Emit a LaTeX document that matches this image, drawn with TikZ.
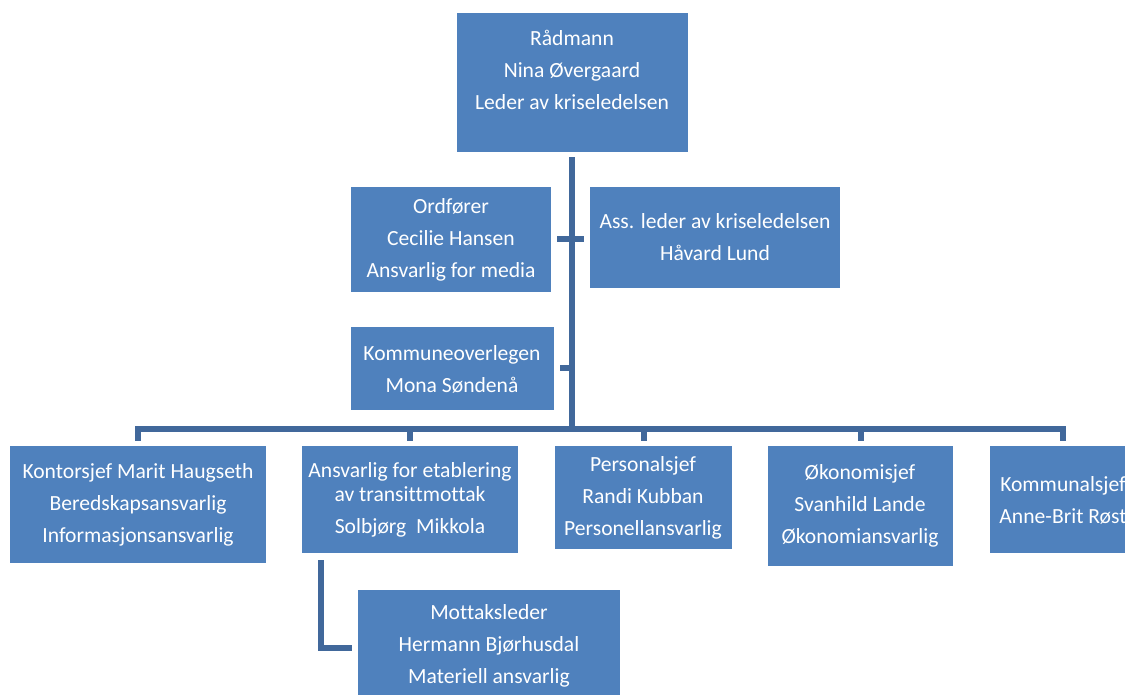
\documentclass[tikz,border=0pt]{standalone}
\usepackage{fontspec}
\setmainfont{Carlito}[Ligatures=NoCommon]
\usetikzlibrary{fit}
\definecolor{boxblue}{RGB}{79,129,189}
\definecolor{lineblue}{RGB}{65,104,155}
\tikzset{
  box/.style={fill=boxblue, draw=none, inner sep=0pt},
  txt/.style={text=white, align=center, inner sep=0pt, font=\fontsize{16.2}{24}\selectfont},
  conn/.style={draw=lineblue, line width=4.5pt, line join=miter}
}
\begin{document}
\begin{tikzpicture}[x=0.75pt,y=-0.75pt]
\useasboundingbox (0,0) rectangle (1125,695);
\clip (0,0) rectangle (1125,695);
\fill[white] (0,0) rectangle (1125,695);
% boxes
\node[box, fit={(457,13) (688,152)}] (r) {};
\node[box, fit={(351,187) (551,292)}] (o) {};
\node[box, fit={(590,187) (840,288)}] (a) {};
\node[box, fit={(351,327) (554,410)}] (k) {};
\node[box, fit={(10,446) (266,563)}] (b1) {};
\node[box, fit={(302,446) (518,553)}] (b2) {};
\node[box, fit={(555,446) (732,549)}] (b3) {};
\node[box, fit={(768,446) (953,566)}] (b4) {};
\node[box, fit={(990,446) (1136,553)}] (b5) {};
\node[box, fit={(358,590) (620,705)}] (m) {};
% texts
\node[txt] (tr) at (572,70) {Rådmann\\Nina Øvergaard\\Leder av kriseledelsen};
\node[txt] (to) at (451,239.5) {Ordfører\\Cecilie Hansen\\Ansvarlig for media};
\node[txt] (ta) at (715,237.5) {Ass. leder av kriseledelsen\\Håvard Lund};
\node[txt] (tk) at (452,369.5) {Kommuneoverlegen\\Mona Søndenå};
\node[txt] (tb1) at (138,504.5) {Kontorsjef Marit Haugseth\\Beredskapsansvarlig\\Informasjonsansvarlig};
\node[txt] (tb2) at (410,500) {Ansvarlig for etablering\\[-6pt]av transittmottak\\Solbjørg~~Mikkola};
\node[txt] (tb3) at (643,497.5) {Personalsjef\\Randi Kubban\\Personellansvarlig};
\node[txt] (tb4) at (860,506) {Økonomisjef\\Svanhild Lande\\Økonomiansvarlig};
\node[txt] (tb5) at (1063,500.5) {Kommunalsjef\\Anne-Brit Røst};
\node[txt] (tm) at (489,645.5) {Mottaksleder\\Hermann Bjørhusdal\\Materiell ansvarlig};
% connectors
\coordinate (bus) at (572,429);
\draw[conn] ([yshift=-3.75pt]r.south -| bus) -- (bus);
\draw[conn] ([yshift=3.75pt]b1.north) -- (b1.north |- bus) -- (b5.north |- bus) -- ([yshift=3.75pt]b5.north);
\draw[conn] (b2.north |- bus) -- ([yshift=3.75pt]b2.north);
\draw[conn] (b3.north |- bus) -- ([yshift=3.75pt]b3.north);
\draw[conn] (b4.north |- bus) -- ([yshift=3.75pt]b4.north);
\draw[conn] ([xshift=4.5pt]o.east) -- ([xshift=-4.5pt]o.east -| a.west);
\draw[conn] ([xshift=4.5pt]k.east) -- (k.east -| bus);
\draw[conn] ([xshift=14.25pt,yshift=-5.25pt]b2.south west) |- ([xshift=-4.5pt]m.west);
\end{tikzpicture}
\end{document}
